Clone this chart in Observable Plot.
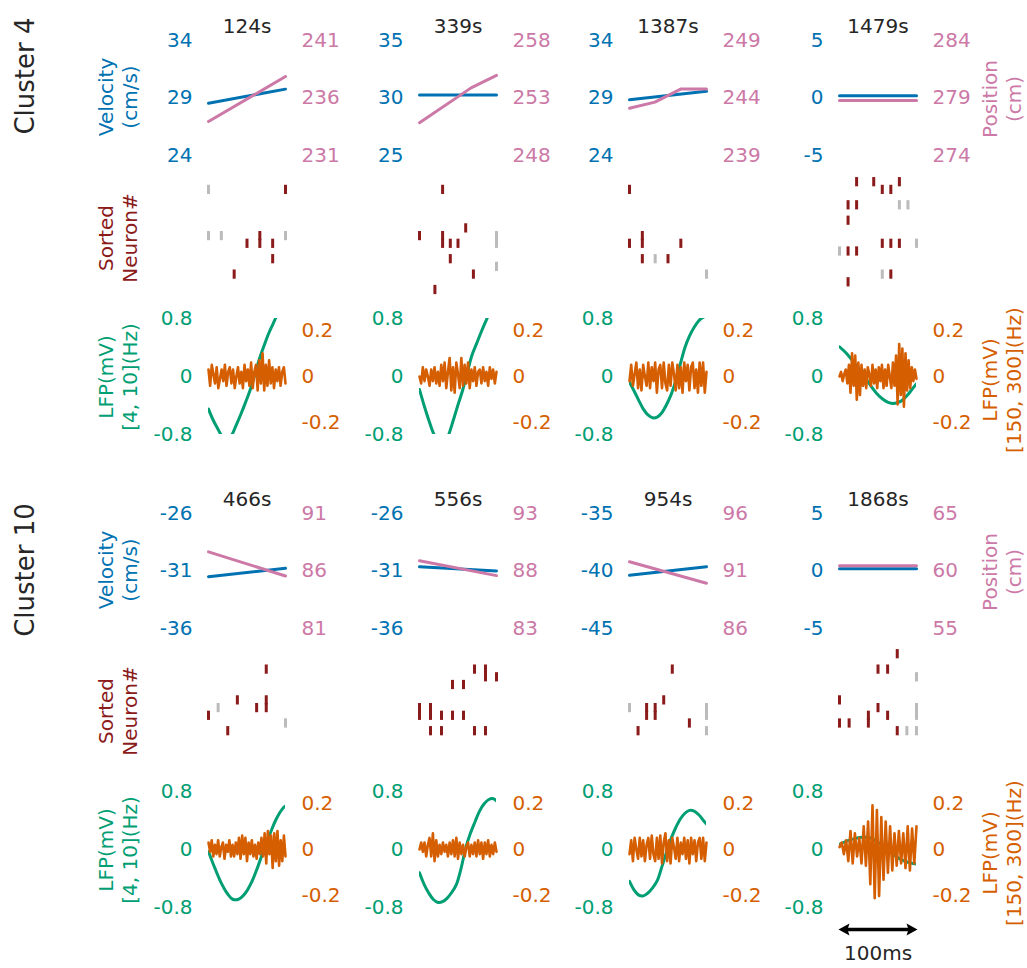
<!DOCTYPE html>
<html><head><meta charset="utf-8">
<script src="https://cdn.jsdelivr.net/npm/d3@7"></script>
<script src="https://cdn.jsdelivr.net/npm/@observablehq/plot@0.6"></script>
<style>
body{margin:0;background:#fff;}
#root{position:relative;width:1027px;height:968px;overflow:hidden;background:#fff;font-family:"DejaVu Sans",sans-serif;}
.lbl{position:absolute;white-space:pre;text-align:center;font-size:20px;line-height:24px;transform:translate(-50%,-50%) rotate(-90deg);}
</style></head><body><div id="root"></div><script>
// ---------------- data ----------------
const clusterNames = ["Cluster 4", "Cluster 10"];
const panelTitles = ["124s", "339s", "1387s", "1479s", "466s", "556s", "954s", "1868s"];
const velTicks = [[24,29,34],[25,30,35],[24,29,34],[-5,0,5],[-36,-31,-26],[-36,-31,-26],[-45,-40,-35],[-5,0,5]];
const posTicks = [[231,236,241],[248,253,258],[239,244,249],[274,279,284],[81,86,91],[83,88,93],[86,91,96],[55,60,65]];
const lfpTicks = [-0.8, 0, 0.8];
const gammaTicks = [-0.2, 0, 0.2];
// [time ms, value]
const velocity = [
  [[0,28.55],[100,29.77]],
  [[0,30.26],[100,30.26]],
  [[0,28.84],[100,29.58]],
  [[0,0.2],[100,0.2]],
  [[0,-31.49],[100,-30.77]],
  [[0,-30.63],[100,-31.0]],
  [[0,-40.37],[100,-39.63]],
  [[0,0.2],[100,0.2]]
];
const position = [
  [[0,233.96],[100,237.87]],
  [[0,250.85],[67,253.88],[100,254.97]],
  [[0,243.11],[33,243.64],[67,244.79],[100,244.79]],
  [[0,278.79],[100,278.79]],
  [[0,87.66],[100,85.57]],
  [[0,88.89],[100,87.6]],
  [[0,91.8],[100,89.94]],
  [[0,60.45],[100,60.45]]
];
// spike raster: number of time bins per panel, and [bin, neuron row, sorted(1)/other(0)]
const spikeBins = [7, 11, 7, 10, 9, 8, 10, 9];
const spikes = [
  [[0,1,0],[6,1,1],[0,7,0],[1,7,0],[6,7,0],[3,8,1],[4,7,1],[4,8,1],[5,8,1],[5,10,1],[2,12,1]],
  [[3,1,1],[6,6,1],[0,7,1],[3,7,1],[3,8,1],[4,8,1],[5,8,1],[10,7,0],[10,8,0],[4,10,1],[10,11,0],[7,12,1],[2,14,1]],
  [[0,1,1],[0,8,1],[1,7,1],[1,8,1],[4,8,1],[1,10,1],[2,10,0],[3,10,1],[6,12,0]],
  [[2,0,1],[4,0,1],[5,1,1],[6,1,1],[7,0,1],[1,3,1],[2,3,1],[7,3,0],[8,3,0],[1,5,1],[5,8,1],[6,8,1],[7,8,1],[9,8,0],[0,9,0],[1,9,1],[2,9,1],[5,12,0],[6,12,1],[1,13,1]],
  [[6,2,1],[3,6,1],[6,6,1],[6,7,1],[1,7,0],[5,7,1],[0,8,1],[8,9,0],[2,10,1]],
  [[5,2,1],[6,2,1],[6,3,1],[7,3,1],[3,4,1],[4,4,1],[0,7,1],[0,8,1],[1,7,1],[1,8,1],[2,8,1],[3,8,1],[4,8,1],[1,10,1],[2,10,1],[5,10,1],[6,10,1]],
  [[5,2,1],[4,6,1],[0,7,0],[2,7,1],[2,8,1],[3,7,1],[3,8,1],[9,7,0],[9,8,0],[7,9,1],[1,10,1],[9,10,0]],
  [[6,0,1],[4,2,1],[5,2,1],[8,3,0],[0,6,1],[4,7,1],[8,7,0],[8,8,0],[3,8,1],[3,9,1],[5,8,1],[0,9,1],[1,9,1],[6,10,1],[7,10,0],[8,10,0]]
];
// theta-band LFP [time ms, mV]
const thetaLFP = [
  [[0,-0.45],[6,-0.6],[12,-0.72],[18,-0.83],[24,-0.88],[30,-0.81],[36,-0.67],[42,-0.52],[48,-0.36],[54,-0.19],[60,0.02],[66,0.24],[72,0.42],[78,0.59],[84,0.73],[90,0.87],[96,0.99],[100,1.05]],
  [[0,-0.18],[6,-0.4],[12,-0.6],[18,-0.78],[24,-0.9],[29,-0.95],[34,-0.9],[38,-0.8],[44,-0.6],[50,-0.39],[56,-0.19],[62,0.05],[68,0.29],[74,0.45],[80,0.61],[86,0.76],[92,0.9],[100,1.05]],
  [[0,-0.08],[6,-0.2],[12,-0.33],[18,-0.45],[24,-0.53],[30,-0.57],[36,-0.56],[42,-0.5],[48,-0.39],[54,-0.25],[60,-0.06],[66,0.17],[72,0.4],[78,0.56],[84,0.68],[90,0.77],[96,0.82],[100,0.83]],
  [[0,0.41],[8,0.33],[16,0.23],[24,0.12],[32,0.01],[40,-0.12],[48,-0.23],[56,-0.31],[64,-0.36],[72,-0.37],[80,-0.34],[88,-0.26],[94,-0.18],[100,-0.1]],
  [[0,-0.03],[8,-0.25],[16,-0.45],[24,-0.6],[32,-0.69],[40,-0.68],[48,-0.6],[56,-0.45],[64,-0.24],[72,0.0],[80,0.22],[88,0.42],[96,0.56],[100,0.6]],
  [[0,-0.32],[6,-0.48],[12,-0.6],[18,-0.69],[24,-0.73],[30,-0.72],[36,-0.67],[42,-0.59],[48,-0.48],[54,-0.26],[60,0.02],[66,0.22],[72,0.38],[78,0.53],[84,0.63],[90,0.69],[96,0.7],[100,0.67]],
  [[0,-0.44],[6,-0.56],[12,-0.63],[18,-0.64],[24,-0.6],[30,-0.53],[36,-0.43],[42,-0.24],[48,-0.04],[54,0.15],[60,0.3],[66,0.42],[72,0.5],[78,0.54],[84,0.53],[90,0.48],[96,0.4],[100,0.35]],
  [[0,0.07],[10,0.12],[20,0.15],[30,0.17],[40,0.16],[50,0.1],[60,0.02],[70,-0.07],[80,-0.14],[90,-0.18],[100,-0.2]]
];
// high-frequency LFP samples (evenly spaced over 100 ms), mV
const gammaLFP = [
  [0.03,-0.04,0.05,0.01,-0.03,0.04,-0.05,-0.01,0.03,-0.02,0.05,-0.04,0.02,0.04,-0.03,0.03,-0.05,0.0,0.04,-0.03,0.02,-0.05,0.05,-0.02,0.03,-0.04,0.06,-0.05,0.02,0.05,-0.06,0.07,-0.03,0.1,-0.06,0.05,-0.04,0.07,-0.03,0.04,-0.05,0.03,-0.02,0.04,-0.04,0.02,0.04,-0.03],
  [0.0,-0.03,0.04,-0.02,0.03,0.0,-0.04,0.03,-0.02,0.04,-0.03,0.02,-0.04,0.05,-0.02,0.06,-0.05,0.02,0.08,-0.06,0.04,-0.07,0.06,0.01,-0.05,0.08,-0.04,0.05,-0.03,0.06,-0.05,0.03,-0.02,0.04,-0.04,0.02,0.03,-0.03,0.04,-0.02,0.02,-0.04,0.04,-0.01,0.03,-0.03,0.02],
  [-0.02,0.05,-0.04,0.01,0.06,-0.05,0.03,-0.06,0.05,0.0,-0.04,0.06,-0.05,0.04,-0.02,0.06,-0.07,0.03,0.05,-0.05,0.06,-0.03,-0.06,0.05,-0.04,0.06,0.01,-0.06,0.05,-0.05,0.04,-0.07,0.06,-0.02,0.05,-0.06,0.04,0.06,-0.05,0.03,-0.07,0.06,-0.04,0.06,-0.07,0.02],
  [0.0,0.02,-0.02,0.01,0.03,-0.03,0.05,-0.07,0.1,-0.04,0.09,-0.1,0.06,-0.08,0.05,-0.04,0.03,-0.05,0.04,0.01,-0.04,0.05,-0.03,0.03,-0.05,0.04,-0.02,0.05,-0.05,0.03,-0.04,0.05,0.0,-0.05,0.06,-0.04,0.09,-0.12,0.14,-0.08,0.12,-0.13,0.1,-0.06,0.07,-0.05,0.04,-0.02,0.03,-0.01],
  [0.03,-0.01,0.04,-0.03,0.02,-0.02,0.04,-0.03,0.01,0.03,-0.04,0.02,-0.01,0.04,-0.03,0.02,-0.03,0.03,-0.02,0.05,-0.04,0.06,-0.02,0.05,-0.05,0.03,-0.02,0.04,-0.03,0.02,-0.04,0.03,-0.02,0.05,-0.03,0.07,-0.06,0.08,-0.02,0.06,-0.08,0.07,-0.05,0.08,-0.07,0.04,-0.05,0.06,-0.03],
  [0.0,0.03,-0.01,0.03,-0.03,0.02,0.05,-0.03,0.07,-0.05,0.04,-0.03,0.02,-0.02,0.03,-0.01,0.02,-0.03,0.03,-0.02,0.04,-0.03,0.05,-0.04,0.03,-0.02,0.02,-0.03,0.01,0.03,-0.03,0.02,-0.02,0.03,-0.03,0.04,-0.02,0.03,-0.04,0.03,-0.02,0.04,-0.03,0.02,-0.02,0.03,-0.01],
  [-0.02,0.04,-0.05,0.05,0.0,-0.04,0.05,-0.03,0.04,-0.05,0.02,0.05,-0.04,0.06,-0.02,-0.05,0.05,-0.04,0.06,-0.06,0.03,0.07,-0.05,0.04,-0.06,0.05,0.01,-0.04,0.05,-0.05,0.03,-0.02,0.05,-0.04,0.04,-0.06,0.05,-0.02,0.04,-0.05,0.03,0.05,-0.04,0.05,-0.05,0.03],
  [0.01,0.03,-0.02,0.04,-0.05,0.08,-0.06,0.07,-0.03,0.05,-0.06,0.1,-0.07,0.12,-0.15,0.19,-0.21,0.17,-0.2,0.14,-0.13,0.12,-0.1,0.1,-0.09,0.07,-0.07,0.08,-0.06,0.07,-0.08,0.1,-0.09,0.09,-0.06,0.1]
];
const scaleBarLabel = "100ms";

// ---------------- layout / style ----------------
const BLUE = "#0072B2", PINK = "#CC79A7", GREEN = "#009E73", ORANGE = "#D55E00";
const DARK = "#8B1A1A", GRAY = "#BBBBBB", TEXT = "#262626";
const root = document.getElementById("root");
const PW = 77, ML = 80, MR = 80;
const colX = [208, 418.5, 629, 839];
const groupDY = [0, 472.5];

function addPlot(left, frameTop, frameBottom, y, marks) {
  const MT = 40, MB = 20;
  const svg = Plot.plot({
    width: ML + PW + MR,
    height: MT + (frameBottom - frameTop) + MB,
    marginLeft: ML, marginRight: MR, marginTop: MT, marginBottom: MB,
    style: {fontFamily: '"DejaVu Sans", sans-serif', fontSize: "20px", background: "transparent", overflow: "visible"},
    x: {domain: [0, 100], axis: null},
    y: {...y, axis: null},
    marks
  });
  Object.assign(svg.style, {position: "absolute", left: (left - ML) + "px", top: (frameTop - MT) + "px"});
  root.appendChild(svg);
}
const axis = (ticks, anchor, color) => Plot.axisY({ticks, anchor, color, tickSize: 0, tickPadding: 16,
  tickFormat: d => String(d), label: null, fontSize: 20});

function addLabel(text, x, y, color, size = 20) {
  const d = document.createElement("div");
  d.className = "lbl";
  d.textContent = text;
  Object.assign(d.style, {left: x + "px", top: y + "px", color, fontSize: size + "px"});
  root.appendChild(d);
}

for (let p = 0; p < 8; p++) {
  const c = p % 4, g = Math.floor(p / 4), dy = groupDY[g], x0 = colX[c];
  const vt = velTicks[p], pt = posTicks[p];
  addPlot(x0, 40 + dy, 155 + dy, {domain: [vt[0], vt[2]]}, [
    axis(vt, "left", BLUE),
    Plot.line(velocity[p], {x: d => d[0], y: d => d[1], stroke: BLUE, strokeWidth: 3}),
    Plot.text([panelTitles[p]], {frameAnchor: "top", dy: -22, fill: TEXT, fontSize: 20})
  ]);
  addPlot(x0, 40 + dy, 155 + dy, {domain: [pt[0], pt[2]]}, [
    axis(pt, "right", PINK),
    Plot.line(position[p], {x: d => d[0], y: d => d[1], stroke: PINK, strokeWidth: 3})
  ]);
  const n = spikeBins[p];
  const tick = (kind, color) => Plot.ruleX(spikes[p].filter(s => s[2] === kind), {
    x: s => s[0] * 100 / (n - 1), y1: s => s[1] - 0.6, y2: s => s[1] + 0.6, stroke: color, strokeWidth: 3});
  addPlot(x0, 173.6 + dy, 296.8 + dy, {domain: [-1, 15], reverse: true}, [tick(0, GRAY), tick(1, DARK)]);
  addPlot(x0, 318 + dy, 434 + dy, {domain: [-0.8, 0.8]}, [
    axis(lfpTicks, "left", GREEN),
    Plot.line(thetaLFP[p], {x: d => d[0], y: d => d[1], stroke: GREEN, strokeWidth: 3, clip: true, curve: "catmull-rom"})
  ]);
  const gm = gammaLFP[p];
  addPlot(x0, 318 + dy, 434 + dy, {domain: [-0.25, 0.25]}, [
    axis(gammaTicks, "right", ORANGE),
    Plot.line(gm, {x: (d, i) => i * 100 / (gm.length - 1), y: d => d, stroke: ORANGE, strokeWidth: 2.6})
  ]);

  if (c === 0) {
    addLabel(clusterNames[g], 25, (g === 0 ? 76 : 570), TEXT, 26);
    addLabel("Velocity\n(cm/s)", 118, 97 + dy, BLUE);
    addLabel("Sorted\nNeuron#", 118, 238 + dy, DARK);
    addLabel("LFP(mV)\n[4, 10](Hz)", 118, 377 + dy, GREEN);
  }
  if (c === 3) {
    addLabel("Position\n(cm)", 1002, 99 + dy, PINK);
    addLabel("LFP(mV)\n[150, 300](Hz)", 1002, 380 + dy, ORANGE);
  }
}
// scale bar: double-headed arrow spanning the 100 ms window
const headLeft = {draw(ctx) { ctx.moveTo(-7, 0); ctx.lineTo(4, -6); ctx.lineTo(2, 0); ctx.lineTo(4, 6); ctx.closePath(); }};
const headRight = {draw(ctx) { ctx.moveTo(7, 0); ctx.lineTo(-4, -6); ctx.lineTo(-2, 0); ctx.lineTo(-4, 6); ctx.closePath(); }};
addPlot(colX[3], 929, 953, {domain: [0, 1], reverse: true}, [
  Plot.link([0], {x1: 5, x2: 95, y1: 0, y2: 0, stroke: "black", strokeWidth: 3.5, strokeLinecap: "butt"}),
  Plot.dot([0], {x: 0, y: 0, dx: 6, symbol: headLeft, r: 5, fill: "black", stroke: null}),
  Plot.dot([100], {x: 100, y: 0, dx: -6, symbol: headRight, r: 5, fill: "black", stroke: null}),
  Plot.text([scaleBarLabel], {x: 50, y: 1, fill: TEXT, fontSize: 20})
]);
</script></body></html>
